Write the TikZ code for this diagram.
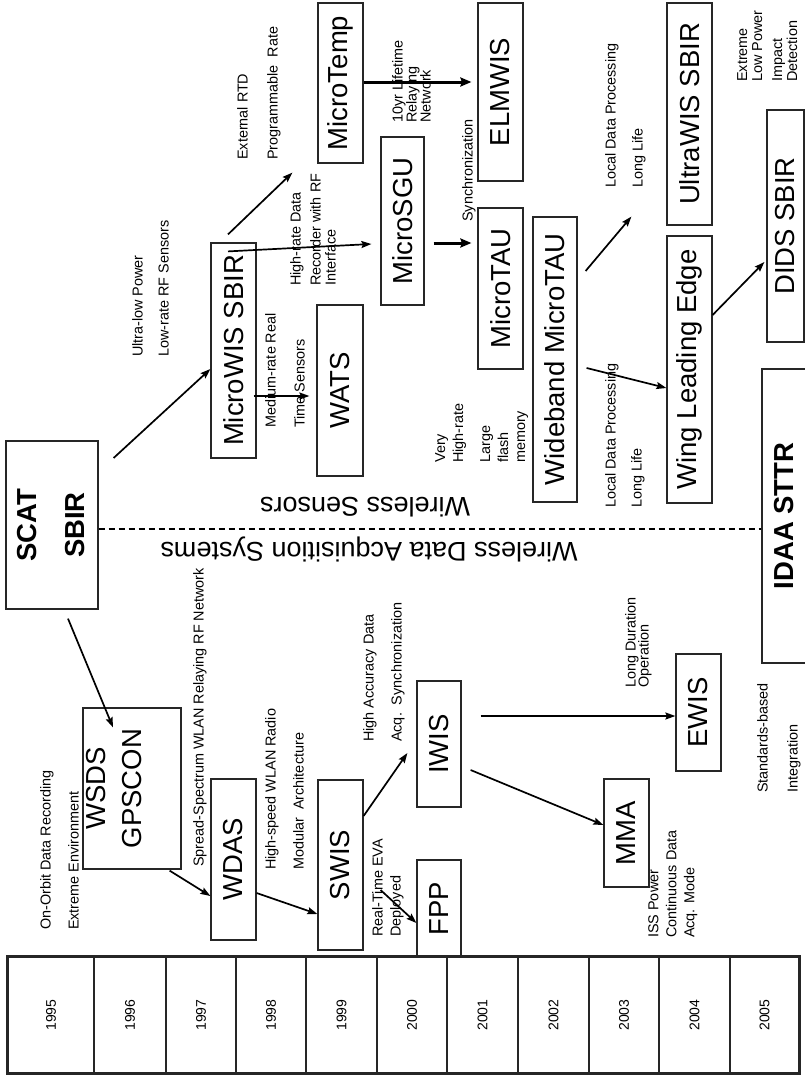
\documentclass[tikz,border=0pt]{standalone}
\usepackage{fontspec}
\setmainfont{Liberation Sans}
\usetikzlibrary{arrows.meta,calc}
\newcommand\rotT[1]{\rotatebox{90}{#1}}
\begin{document}
\begin{tikzpicture}[x=1pt,y=-1pt,
  bx/.style={draw=black!85, line width=1.2pt, inner sep=0pt, font=\fontsize{27.5}{32}\selectfont},
  lbl/.style={rotate=90, anchor=north west, inner sep=0pt, align=left, font=\fontsize{14.4}{16}\selectfont},
  yr/.style={draw=black!85, line width=1.2pt, inner sep=0pt, minimum height=116pt, font=\fontsize{14}{16}\selectfont},
  arr/.style={line width=1.7pt, -{Stealth[length=10pt,width=7pt,inset=1.5pt]}},
  tarr/.style={line width=3pt, -{Stealth[length=11pt,width=9pt,inset=1.5pt]}},
  big/.style={inner sep=0pt, font=\fontsize{27}{32}\selectfont}
]
\useasboundingbox (0,0) rectangle (805,1076);

% ---- boxes ----
\node[bx, minimum width=92pt, minimum height=168pt] (scat) at (52,525)
  {\hspace*{4pt}\rotT{\bfseries\begin{tabular}{@{}c@{}}SCAT\\[16pt]SBIR\end{tabular}}};
\node[bx, minimum width=45pt, minimum height=215pt] (microwis) at (233.5,350.5) {\rotT{MicroWIS SBIR}};
\node[bx, minimum width=46pt, minimum height=171pt] (wats) at (340,390.5) {\rotT{WATS}};
\node[bx, minimum width=45pt, minimum height=160pt] (microtemp) at (340.5,83) {\rotT{MicroTemp}};
\node[bx, minimum width=43pt, minimum height=168pt] (microsgu) at (402.5,221) {\rotT{MicroSGU}};
\node[bx, minimum width=45pt, minimum height=178pt] (elmwis) at (500.5,92) {\rotT{ELMWIS}};
\node[bx, minimum width=45pt, minimum height=161pt] (microtau) at (500.5,288.5) {\rotT{MicroTAU}};
\node[bx, minimum width=44pt, minimum height=285pt] (wideband) at (555,359.5) {\rotT{Wideband MicroTAU}};
\node[bx, minimum width=45pt, minimum height=222pt] (ultrawis) at (689.5,114) {\rotT{UltraWIS SBIR}};
\node[bx, minimum width=45pt, minimum height=267pt] (wing) at (689.5,369.5) {\rotT{Wing Leading Edge}};
\node[bx, minimum width=37pt, minimum height=232pt] (dids) at (785.5,226) {\rotT{DIDS SBIR}};
\node[bx, minimum width=45pt, minimum height=294pt] (idaa) at (784.5,516) {\rotT{\bfseries IDAA STTR}};
\node[bx, minimum width=92pt, minimum height=161pt] (wsds) at (132,788.5)
  {\rotT{\begin{tabular}{@{}c@{}}WSDS\\[4pt]GPSCON\end{tabular}}\hspace*{30pt}};
\node[bx, minimum width=45pt, minimum height=161pt] (wdas) at (233.5,859.5) {\rotT{WDAS}};
\node[bx, minimum width=45pt, minimum height=170pt] (swis) at (340.5,865) {\rotT{SWIS}};
\node[bx, minimum width=44pt, minimum height=97pt] (fpp) at (439,908.5) {\rotT{FPP}};
\node[bx, minimum width=44pt, minimum height=126pt] (iwis) at (439,744) {\rotT{IWIS}};
\node[bx, minimum width=45pt, minimum height=108pt] (mma) at (626.5,833) {\rotT{MMA}};
\node[bx, minimum width=45pt, minimum height=117pt] (ewis) at (698.5,712.5) {\rotT{EWIS}};

% ---- year table ----
\node[yr, minimum width=86pt] (c1995) at (51,1015) {\rotT{1995}};
\node[yr, minimum width=72pt] (c1996) at (130,1015) {\rotT{1996}};
\node[yr, minimum width=70pt] (c1997) at (201,1015) {\rotT{1997}};
\node[yr, minimum width=70pt] (c1998) at (271,1015) {\rotT{1998}};
\node[yr, minimum width=71pt] (c1999) at (341.5,1015) {\rotT{1999}};
\node[yr, minimum width=70pt] (c2000) at (412,1015) {\rotT{2000}};
\node[yr, minimum width=71pt] (c2001) at (482.5,1015) {\rotT{2001}};
\node[yr, minimum width=71pt] (c2002) at (553.5,1015) {\rotT{2002}};
\node[yr, minimum width=70pt] (c2003) at (624,1015) {\rotT{2003}};
\node[yr, minimum width=71pt] (c2004) at (694.5,1015) {\rotT{2004}};
\node[yr, minimum width=69pt] (c2005) at (764.5,1015) {\rotT{2005}};
\draw[line width=3pt, black!85] (c1995.north west) rectangle (c2005.south east);

% ---- divider ----
\coordinate (dl) at ($(scat.east)+(0,4)$);
\draw[line width=1.3pt, dash pattern=on 6pt off 4pt] (dl) -- (dl -| idaa.west);
\node[big, rotate=180] (ws) at (365,507) {Wireless Sensors};
\node[big, rotate=180] (wdaq) at (369,549) {Wireless Data Acquisition Systems};

% ---- labels ----
\node[lbl] (l1) at (132,357) {Ultra-low Power\\[10pt]Low-rate RF Sensors};
\node[lbl] (l2) at (237,160) {External RTD\\[14pt]Programmable\ \ Rate};
\node[lbl] (l3) at (290,286) {High-rate Data\\[4pt]Recorder with RF\\[-1pt]Interface};
\node[lbl] (l4) at (265,428) {Medium-rate Real\\[13pt]Time Sensors};
\node[lbl] (l5) at (392,123) {10yr Lifetime\\[-2pt]Relaying\\[-2pt]Network};
\node[lbl] (l6) at (462,222) {Synchronization};
\node[lbl] (l7) at (435,463) {Very\\[2pt]High-rate\\[11pt]Large\\[2pt]flash\\[1pt]memory};
\node[lbl] (l8) at (605,508) {Local Data Processing\\[10pt]Long Life};
\node[lbl] (l9) at (605,188) {Local Data Processing\\[11pt]Long Life};
\node[lbl] (l10) at (737,82) {Extreme\\[-1pt]Low Power\\[4pt]Impact\\[-1pt]Detection};
\node[lbl] (l11) at (363,742) {High Accuracy Data\\[12pt]Acq.\ \ Synchronization};
\node[lbl] (l12) at (625,688) {Long Duration\\[-3pt]Operation};
\node[lbl] (l13) at (757,793) {Standards-based\\[14pt]Integration};
\node[lbl] (l14) at (648,938) {ISS Power\\[2pt]Continuous Data\\[2pt]Acq. Mode};
\node[lbl] (l15) at (40,930) {On-Orbit Data Recording\\[12pt]Extreme Environment};
\node[lbl] (l16) at (193,867) {Spread-Spectrum WLAN Relaying RF Network};
\node[lbl] (l17) at (265,870) {High-speed WLAN Radio\\[12pt]Modular\ \ Architecture};
\node[lbl] (l18) at (372,937) {Real-Time EVA\\[2pt]Deployed};

% ---- arrows ----
\draw[arr] ($(scat.east)+(15,-67)$) -- ($(microwis.west)+(0,18.5)$);
\draw[arr] ($(scat.south)+(16,9)$) -- ($(wsds.north)+(-19,20)$);
\draw[arr] ($(wsds.south east)+(-12,1)$) -- ($(wdas.west)+(0,36.5)$);
\draw[arr] ($(wdas.east)+(0,33.5)$) -- ($(swis.west)+(0,49)$);
\draw[arr] ($(swis.east)+(0,-49)$) -- ($(iwis.west)+(-9,9)$);
\draw[arr] ($(swis.east)+(17,25)$) -- ($(fpp.west)+(0,14.5)$);
\draw[arr] ($(iwis.east)+(9,26)$) -- ($(mma.west)+(0,-8)$);
\draw[arr] ($(iwis.east)+(19,-28)$) -- ($(ewis.west)+(0,3.5)$);
\draw[arr] ($(microwis.east)+(-3,45.5)$) -- ($(wats.west)+(-7,5.5)$);
\draw[arr] ($(microwis.north)+(-5.5,9)$) -- ($(microsgu.west)+(-9,23)$);
\draw[arr] ($(microwis.north)+(-5.5,-8)$) -- ($(microtemp.south west)+(-25,9)$);
\draw[tarr] ($(microtemp.east)+(0,-1)$) -- ($(elmwis.west)+(-6,-10)$);
\draw[tarr] ($(microsgu.east)+(9,22)$) -- ($(microtau.west)+(-6,-45.5)$);
\draw[arr] ($(wideband.east)+(8,-88.5)$) -- ($(ultrawis.south west)+(-35,-9)$);
\draw[arr] ($(wideband.east)+(9,8.5)$) -- ($(wing.west)+(0,18.5)$);
\draw[arr] ($(wing.east)+(0,-54.5)$) -- ($(dids.west)+(-2,36)$);
\end{tikzpicture}
\end{document}
